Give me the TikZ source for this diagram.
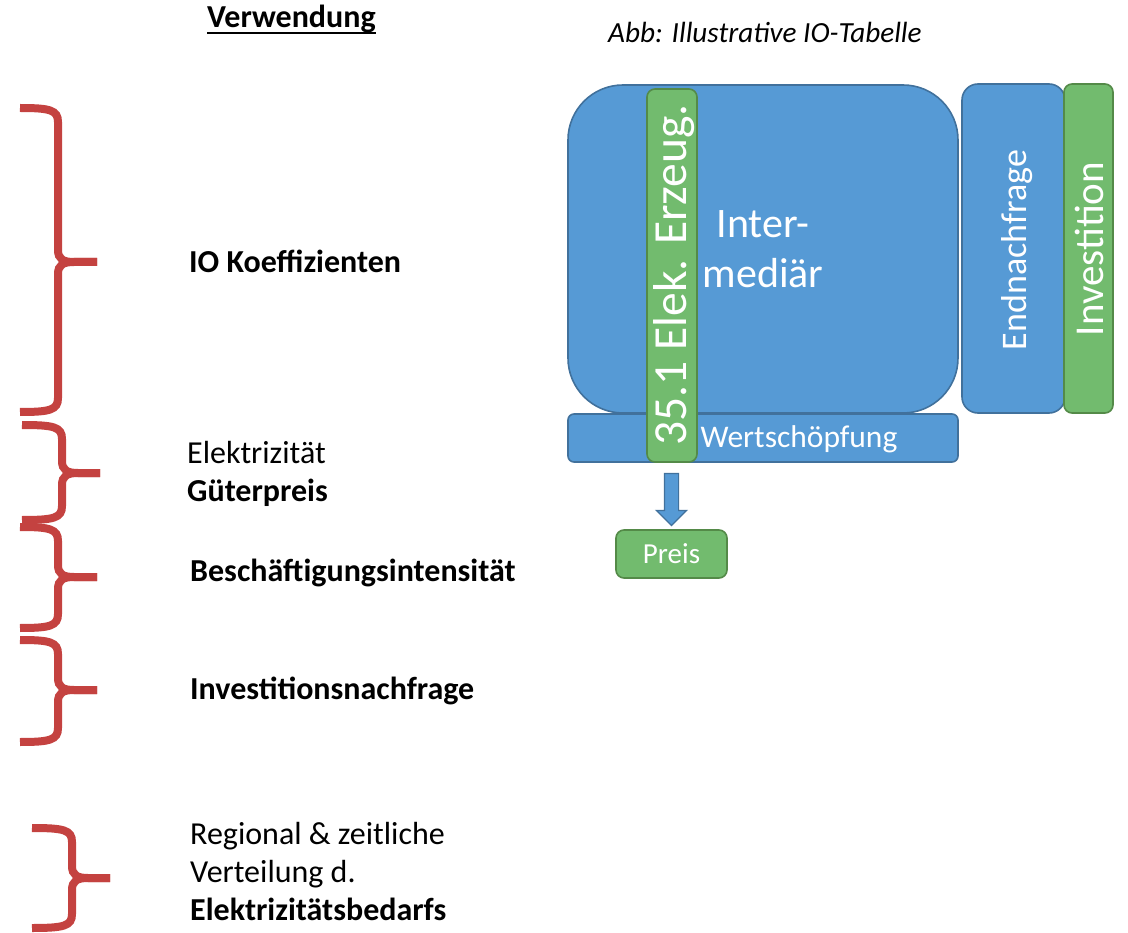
\documentclass[tikz,border=0pt]{standalone}
\usepackage{fontspec}
\setmainfont{Carlito}
\usetikzlibrary{shapes.arrows}
\definecolor{boxblue}{RGB}{86,154,213}
\definecolor{boxblueline}{RGB}{65,113,156}
\definecolor{boxgreen}{RGB}{114,187,110}
\definecolor{boxgreenline}{RGB}{84,138,72}
\definecolor{bracered}{RGB}{196,66,64}
\tikzset{
  bluebox/.style={draw=boxblueline, fill=boxblue, line width=1.6pt, inner sep=0pt},
  greenbox/.style={draw=boxgreenline, fill=boxgreen, line width=1.6pt, inner sep=0pt},
  boxtext/.style={text=white, inner sep=0pt},
  bracestyle/.style={draw=bracered, line width=8pt},
  lefttext/.style={anchor=base west, inner sep=0pt, font=\fontsize{32}{38}\selectfont, align=left},
}
% right curly brace: left end x, spine x, tip x, top y, tip y, bottom y
\newcommand{\redbrace}[6]{%
  \draw[bracestyle] (#1,#4) .. controls (#2-8,#4) and (#2,#4+2) .. (#2,#4+14)
     -- (#2,#5-12) .. controls (#2,#5-3) and (#2+5,#5) .. (#2+16,#5) -- (#3,#5);
  \draw[bracestyle] (#3,#5) -- (#2+16,#5) .. controls (#2+5,#5) and (#2,#5+3) .. (#2,#5+12)
     -- (#2,#6-14) .. controls (#2,#6-2) and (#2-8,#6) .. (#1,#6);
}
\begin{document}
\begin{tikzpicture}[x=1pt, y=-1pt]
\useasboundingbox (0,0) rectangle (1128,933);

% headings
\node[lefttext] (verw) at (207,28) {\bfseries Verwendung};
\draw[line width=2.2pt] ([yshift=-5pt]verw.base west) -- ([yshift=-5pt]verw.base east);
\node[anchor=base west, inner sep=0pt, font=\fontsize{29.2}{34}\selectfont\itshape] (abb) at (608,43) {Abb: Illustrative IO-Tabelle};

% braces
\redbrace{20}{58}{97}{108}{262}{412}
\redbrace{22}{62}{100}{425}{473}{520}
\redbrace{20}{58}{97}{527}{577}{628}
\redbrace{20}{58}{97}{640}{690}{742}
\redbrace{32}{72}{110}{828}{878}{928}

% brace labels (multi-line nodes sit on the baseline of their last line)
\node[lefttext] (iok) at (189,273) {\bfseries IO Koeffizienten};
\node[lefttext] (elek) at (187,501) {Elektrizität\\\bfseries Güterpreis};
\node[lefttext] (besch) at (190,581) {\bfseries Beschäftigungsintensität};
\node[lefttext] (inv) at (190,699) {\bfseries Investitionsnachfrage};
\node[lefttext] (reg) at (190,920) {Regional \& zeitliche\\Verteilung d.\\\bfseries Elektrizitätsbedarfs};

% IO table
\node[bluebox, rounded corners=55pt, minimum width=390pt, minimum height=328pt,
      text=white, align=center, font=\fontsize{42}{50}\selectfont] (inter) at (763,249) {Inter-\\mediär};
\node[bluebox, rounded corners=6pt, minimum width=390pt, minimum height=48pt] (wert) at (763,438) {};
\node[boxtext, font=\fontsize{31.5}{36}\selectfont] (werttext) at (799,439) {Wertschöpfung};
\node[greenbox, rounded corners=8pt, minimum width=50pt, minimum height=373pt] (elcol) at (672,275.5) {};
\node[boxtext, rotate=90, font=\fontsize{47.5}{50}\selectfont] (elcoltext) at (674,275) {35.1 Elek. Erzeug.};
\node[bluebox, rounded corners=16pt, minimum width=103pt, minimum height=329pt] (endn) at (1013.5,248.5) {};
\node[boxtext, rotate=90, font=\fontsize{36}{40}\selectfont] (endntext) at (1017,250) {Endnachfrage};
\node[greenbox, rounded corners=8pt, minimum width=49pt, minimum height=329pt] (invcol) at (1088.5,248.5) {};
\node[boxtext, rotate=90, font=\fontsize{41}{44}\selectfont] (invtext) at (1089,249) {Investition};

% price box and arrow
\node[greenbox, rounded corners=8pt, minimum width=111pt, minimum height=48pt,
      text=white, font=\fontsize{29}{34}\selectfont] (preis) at (671.5,554) {Preis};
\node[single arrow, draw=boxblueline, fill=boxblue, line width=1.2pt, shape border rotate=270,
      inner sep=6.5pt, single arrow head extend=8pt, minimum height=52pt] (arr) at (671.5,496) {};
\end{tikzpicture}
\end{document}
